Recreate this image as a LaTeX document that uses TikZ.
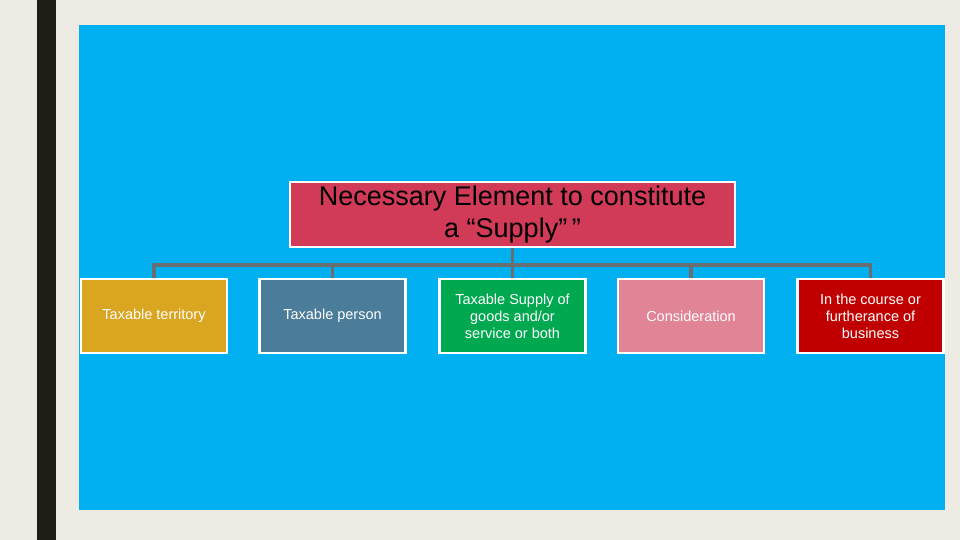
\documentclass[tikz,border=0pt]{standalone}
\usepackage{fontspec}
\setmainfont{Liberation Sans}
\begin{document}
\begin{tikzpicture}[x=1pt,y=-1pt,
  box/.style={draw=white,line width=2.5pt,minimum width=146pt,minimum height=74pt,align=center,text=white,font=\fontsize{14.5}{17}\selectfont,inner sep=1pt},
  conn/.style={draw={rgb,255:red,105;green,110;blue,115},line width=3.5pt}]
\definecolor{bgc}{RGB}{238,235,228}
\definecolor{barc}{RGB}{30,30,20}
\definecolor{bluec}{RGB}{0,176,240}
\definecolor{topc}{RGB}{210,59,88}
\definecolor{c1}{RGB}{218,165,32}
\definecolor{c2}{RGB}{75,124,154}
\definecolor{c3}{RGB}{0,168,80}
\definecolor{c4}{RGB}{225,132,150}
\definecolor{c5}{RGB}{192,0,0}
\fill[bgc] (0,0) rectangle (960,540);
\useasboundingbox (0,0) rectangle (960,540);
\fill[barc] (37,0) rectangle (56,540);
\fill[bluec] (79,25) rectangle (945,510);
\coordinate (hub) at (512.5,265);
\node[box,fill=c1] (b1) at (154,316) {Taxable territory};
\node[box,fill=c2] (b2) at (332.5,316) {Taxable person};
\node[box,fill=c3] (b3) at (512.5,316) {Taxable Supply of\\goods and/or\\service or both};
\node[box,fill=c4] (b4) at (691,316) {Consideration};
\node[box,fill=c5] (b5) at (870.5,316) {In the course or\\furtherance of\\business};
\foreach \b in {b1,b2,b3,b4,b5}{\draw[conn] (hub) -| (\b.north);}
\node[box,fill=topc,text=black,minimum width=445pt,minimum height=65pt,font=\fontsize{27}{32}\selectfont] (top) at (512.5,214.5) {Necessary Element to constitute\\a “Supply”\,”};
\draw[conn] (top.south) -- (hub);
\end{tikzpicture}
\end{document}
